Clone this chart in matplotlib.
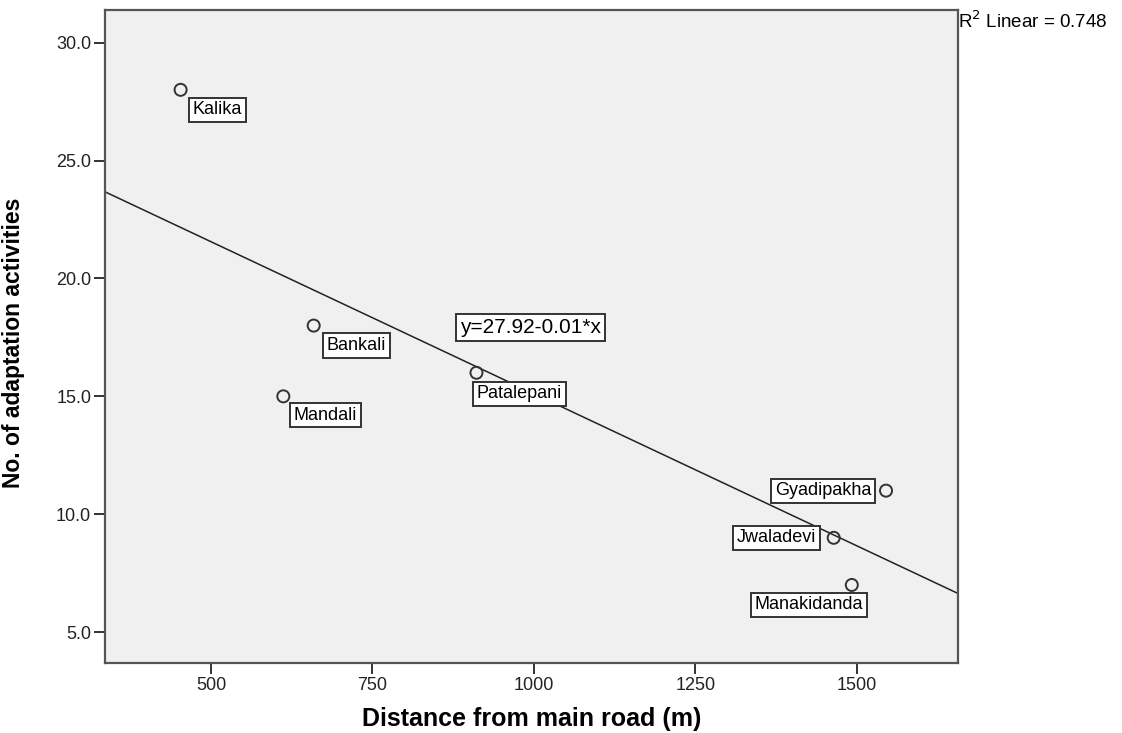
import numpy as np
import matplotlib
matplotlib.use("Agg")
import matplotlib.pyplot as plt

plt.rcParams['font.family'] = ['Liberation Sans', 'DejaVu Sans']

# villages, distance (m) and number of adaptation activities
villages = ["Kalika", "Bankali", "Mandali", "Patalepani", "Gyadipakha", "Jwaladevi", "Manakidanda"]
distance = [453, 659, 612, 911, 1545, 1464, 1492]
activities = [28, 18, 15, 16, 11, 9, 7]

x_ticks = [500, 750, 1000, 1250, 1500]
y_ticks = [5.0, 10.0, 15.0, 20.0, 25.0, 30.0]

eq_text = "y=27.92-0.01*x"
r2_text = "R$^2$ Linear = 0.748"

# where each label box sits relative to its point (pixels)
label_offsets = {
    "Kalika": (37, -20), "Bankali": (43, -20), "Mandali": (42, -19),
    "Patalepani": (43, -21), "Gyadipakha": (-63, 0), "Jwaladevi": (-57, 0),
    "Manakidanda": (-43, -20),
}

fig = plt.figure(figsize=(11.22, 7.33), dpi=100)
ax = fig.add_axes([0.0936, 0.0955, 0.760, 0.891])
ax.set_facecolor("#f0f0f0")

xlim = (336, 1656)
ylim = (3.69, 31.39)
ax.set_xlim(*xlim)
ax.set_ylim(*ylim)

# linear fit line over the full x range
slope, intercept = np.polyfit(distance, activities, 1)
xs = np.array(xlim)
ax.plot(xs, intercept + slope * xs, color="#222222", lw=1.1, zorder=2)

ax.scatter(distance, activities, s=75, facecolors="none", edgecolors="#333333",
           linewidths=1.4, zorder=3)

box = dict(boxstyle="square,pad=0.2", fc="white", ec="#333333", lw=1.4)
for name, xv, yv in zip(villages, distance, activities):
    ax.annotate(name, (xv, yv), xytext=label_offsets[name], textcoords="offset pixels",
                ha="center", va="center", fontsize=13, bbox=box, zorder=4)

ax.text(995, 17.92, eq_text, ha="center", va="center", fontsize=15,
        bbox=dict(boxstyle="square,pad=0.2", fc="white", ec="#333333", lw=1.4), zorder=4)

fig.text(0.854, 0.985, r2_text, ha="left", va="top", fontsize=13.5)

ax.set_xticks(x_ticks)
ax.set_xticklabels([str(t) for t in x_ticks])
ax.set_yticks(y_ticks)
ax.set_yticklabels([f"{t:.1f}" for t in y_ticks])
ax.tick_params(direction="out", length=8, width=1.4, color="#333333", labelsize=13,
               labelcolor="#222222", pad=2)
for sp in ax.spines.values():
    sp.set_color("#555555")
    sp.set_linewidth(1.6)

ax.set_xlabel("Distance from main road (m)", fontsize=18, fontweight="bold")
ax.set_ylabel("No. of adaptation activities", fontsize=16.5, fontweight="bold")
ax.xaxis.set_label_coords(0.5, -0.068)
ax.yaxis.set_label_coords(-0.094, 0.49)

fig.savefig("out.png", dpi=100)
